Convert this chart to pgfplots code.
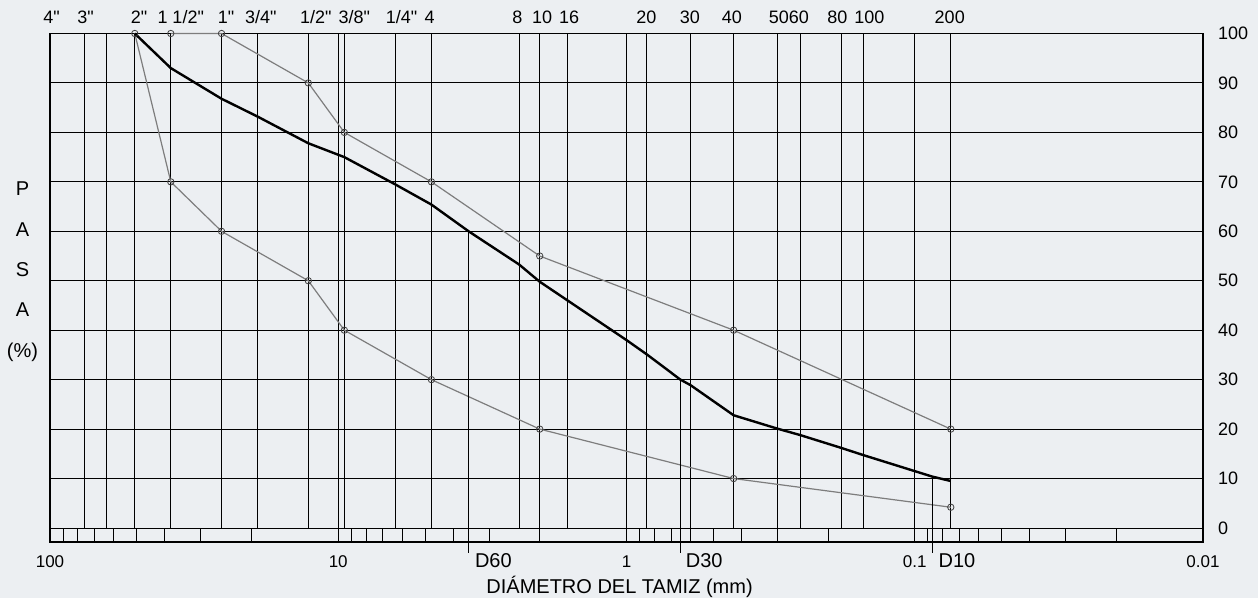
\documentclass[border=0pt]{standalone}
\usepackage{fontspec}
\setmainfont{Liberation Sans}[Ligatures=TeXOff]
\usepackage{pgfplots}
\pgfplotsset{compat=1.18}
\definecolor{bgcol}{RGB}{236,239,242}
\definecolor{curvegray}{RGB}{125,125,125}
\begin{document}
\begin{tikzpicture}
\fill[bgcol, use as bounding box] (-25pt,-28pt) rectangle (604pt,271pt);
\begin{axis}[
  scale only axis,
  width=576.5pt, height=254.25pt,
  xmode=log, x dir=reverse,
  xmin=0.01, xmax=100,
  ymin=-2.83, ymax=100,
  clip=false,
  axis line style={black, line width=0.65pt},
  xtick={100,10,1,0.1,0.01},
  xticklabels={100,10,1,0.1,0.01},
  ytick={0,10,...,100},
  yticklabels={0,10,20,30,40,50,60,70,80,90,100},
  yticklabel pos=right,
  major tick length=0pt,
  minor tick length=0pt,
  xminorticks=false,
  ymajorgrids=true,
  grid style={black, line width=0.5pt},
  xticklabel style={font=\fontsize{8.5}{10}\selectfont, anchor=base, yshift=-13pt},
  yticklabel style={font=\fontsize{9}{10}\selectfont, xshift=4pt},
]
% sieve lines
\pgfplotsinvokeforeach{76.2,63.5,50.8,38.1,25.4,19.05,12.7,9.525,6.35,4.75,2.36,2.0,1.6,0.85,0.6,0.425,0.3,0.25,0.18,0.15,0.075}{
  \draw[black, line width=0.5pt] (axis cs:#1,0) -- (axis cs:#1,100);
}
% decade lines
\pgfplotsinvokeforeach{10,1,0.1}{
  \draw[black, line width=0.55pt] (axis cs:#1,-2.83) -- (axis cs:#1,100);
}
% minor ticks in the strip
\pgfplotsinvokeforeach{90,80,70,60,50,40,30,20,9,8,7,6,5,4,3,2,0.9,0.8,0.7,0.6,0.5,0.4,0.3,0.2,0.09,0.08,0.07,0.06,0.05,0.04,0.03,0.02}{
  \draw[black, line width=0.45pt] (axis cs:#1,-2.83) -- (axis cs:#1,0);
}
% top sieve labels
\foreach \xx/\lab in {98.8/{4"},75.3/{3"},49.1/{2"},35.2/{1 1/2"},24.5/{1"},18.56/{3/4"},11.97/{1/2"},8.80/{3/8"},6.03/{1/4"},4.82/{4},2.39/{8},1.963/{10},1.582/{16},0.853/{20},0.6026/{30},0.4309/{40},0.2734/{5060},0.1856/{80},0.1438/{100},0.07562/{200}}{
  \edef\temp{\noexpand\node[anchor=base, inner sep=0pt, yshift=4.75pt, font=\noexpand\fontsize{9}{10}\noexpand\selectfont] at (axis cs:\xx,100) {\unexpanded\expandafter{\lab}};}
  \temp
}
% upper band
\addplot[curvegray, line width=0.6pt, mark=o, mark size=1.6pt, mark options={black!75, line width=0.4pt}] coordinates {
(38.1,100)(25.4,100)(12.7,90)(9.525,80)(4.75,70)(2.0,55)(0.425,40)(0.075,20)};
% lower band
\addplot[curvegray, line width=0.6pt, mark=o, mark size=1.6pt, mark options={black!75, line width=0.4pt}] coordinates {
(50.8,100)(38.1,70)(25.4,60)(12.7,50)(9.525,40)(4.75,30)(2.0,20)(0.425,10)(0.075,4.2)};
% sample curve
\addplot[black, line width=1.2pt, mark=none] coordinates {
(50.8,100)(38.1,93)(25.4,86.8)(19.05,83.2)(12.7,77.8)(9.525,75)(6.35,69.5)(4.75,65.4)(3.53,60)(2.36,53.3)(2.0,49.8)(1.6,46)(1.0,38)(0.85,35.1)(0.65,30)(0.6,28.9)(0.425,22.8)(0.3,20.1)(0.25,18.8)(0.18,16.2)(0.15,14.7)(0.1,11.5)(0.087,10.4)(0.075,9.5)};
% D lines
\addplot[black, line width=0.4pt, mark=none] coordinates {(3.53,60)(3.53,-5.05)};
\addplot[black, line width=0.4pt, mark=none] coordinates {(0.65,30)(0.65,-5.05)};
\addplot[black, line width=0.4pt, mark=none] coordinates {(0.087,10)(0.087,-5.05)};
\node[anchor=base west, inner sep=0pt, xshift=3pt, yshift=-12.75pt, font=\fontsize{10}{12}\selectfont] at (axis cs:3.53,-2.83) {D60};
\node[anchor=base west, inner sep=0pt, xshift=2.5pt, yshift=-12.75pt, font=\fontsize{10}{12}\selectfont] at (axis cs:0.65,-2.83) {D30};
\node[anchor=base west, inner sep=0pt, xshift=3pt, yshift=-12.75pt, font=\fontsize{10}{12}\selectfont] at (axis cs:0.087,-2.83) {D10};
% axis title
\node[anchor=base, inner sep=0pt, yshift=-26pt, font=\fontsize{10}{12}\selectfont] at (axis cs:1.057,-2.83) {DIÁMETRO DEL TAMIZ (mm)};
% left label
\node[anchor=base, inner sep=0pt, xshift=-13.75pt, font=\fontsize{10}{12}\selectfont] at (axis cs:100,67.27) {P};
\node[anchor=base, inner sep=0pt, xshift=-13.75pt, font=\fontsize{10}{12}\selectfont] at (axis cs:100,58.99) {A};
\node[anchor=base, inner sep=0pt, xshift=-13.75pt, font=\fontsize{10}{12}\selectfont] at (axis cs:100,50.91) {S};
\node[anchor=base, inner sep=0pt, xshift=-13.75pt, font=\fontsize{10}{12}\selectfont] at (axis cs:100,42.83) {A};
\node[anchor=base, inner sep=0pt, xshift=-13.75pt, font=\fontsize{10}{12}\selectfont] at (axis cs:100,34.55) {(\%)};
\end{axis}
\end{tikzpicture}
\end{document}
